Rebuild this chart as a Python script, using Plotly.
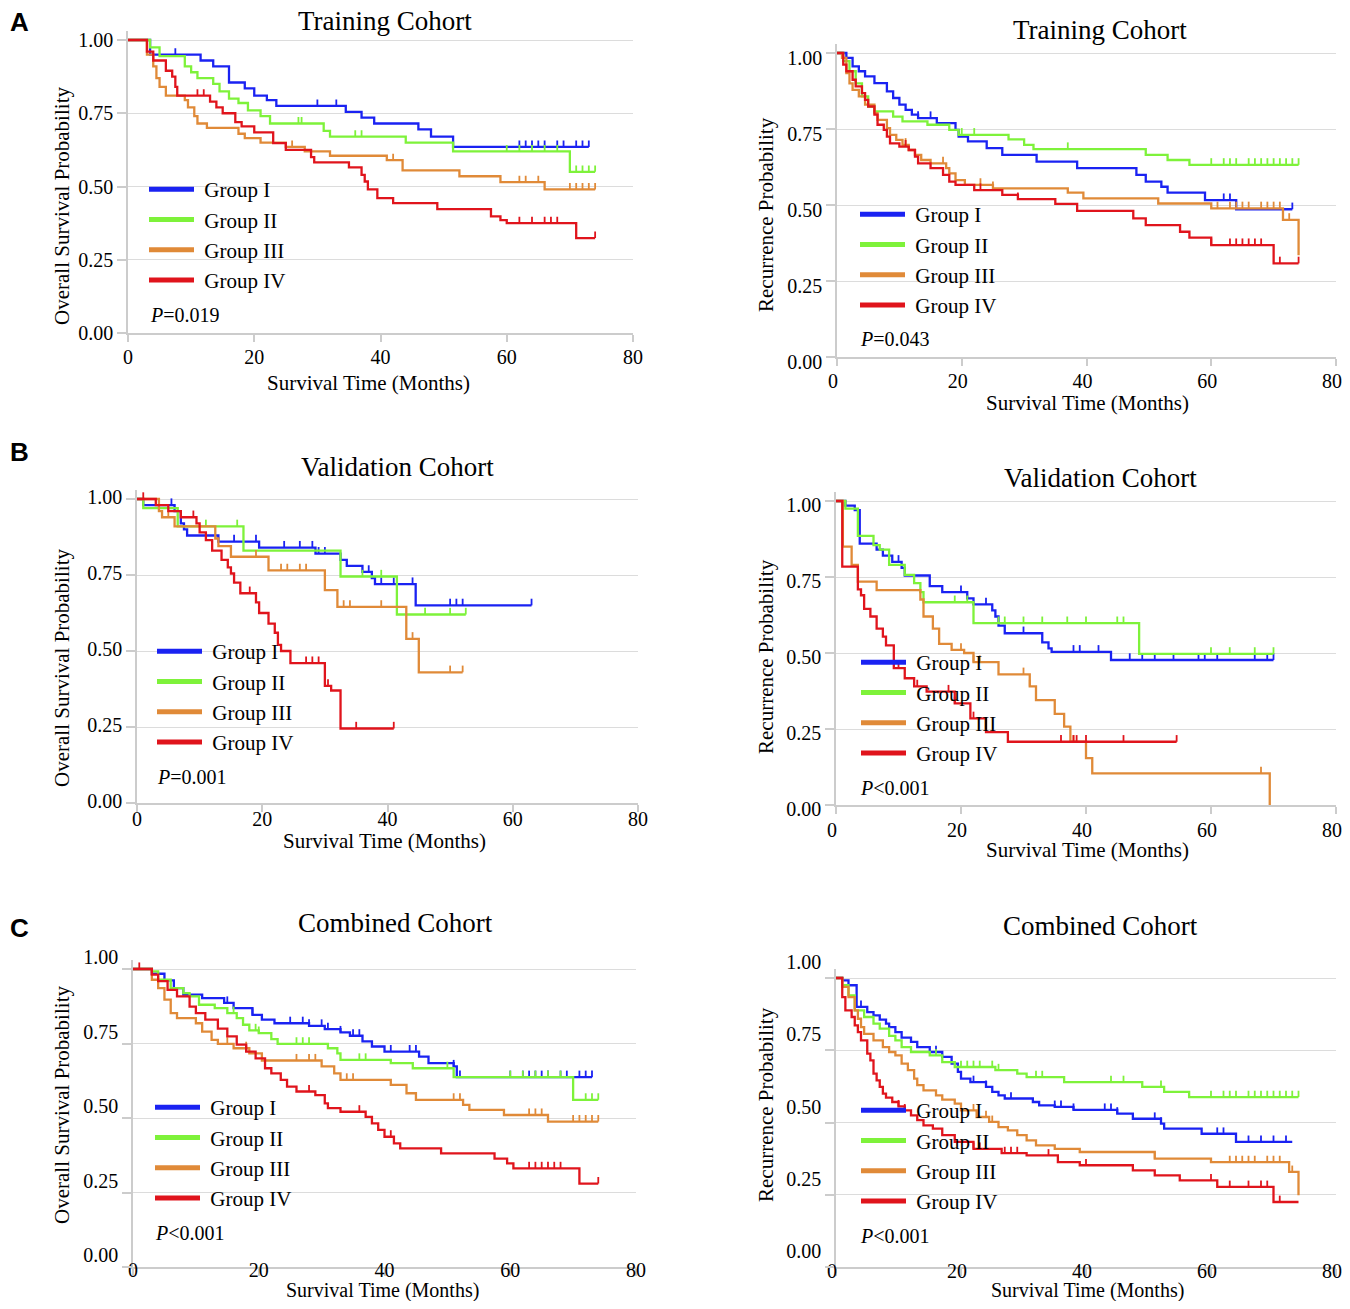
import plotly.graph_objects as go

WIDTH = 1350
HEIGHT = 1309
PAGE_MARGIN = 8  # default body margin of the html page
FIG_W = WIDTH - 2 * PAGE_MARGIN
FIG_H = HEIGHT - 2 * PAGE_MARGIN

GROUPS = ['Group I', 'Group II', 'Group III', 'Group IV']
COLORS = ['#1a22f2', '#7ef23a', '#e08a38', '#e0141c']
X_TICKS = [0, 20, 40, 60, 80]
Y_TICKS = [0, 0.25, 0.5, 0.75, 1.0]
Y_TICK_TEXT = ['0.00', '0.25', '0.50', '0.75', '1.00']

# ---- A: training cohort, overall survival ----
A_OS_I_T = [0, 3.5, 11.5, 13.5, 16, 18.5, 20, 22, 23.5, 34.5, 37, 39, 46, 48, 51.5, 73]
A_OS_I_S = [1, .95, .93, .91, .855, .835, .81, .795, .775, .755, .735, .715, .695, .67, .635, .635]
A_OS_I_C = [7.5, 16, 30, 33, 62, 63, 64, 65, 66, 68, 69, 71, 72, 73]
A_OS_II_T = [0, 3.5, 5, 9, 10, 11, 13.5, 14.5, 16, 17.5, 19, 21, 22.5, 31, 32, 44, 51.5, 70, 74]
A_OS_II_S = [1, .975, .945, .91, .89, .87, .85, .825, .80, .785, .76, .74, .715, .69, .67, .65, .62, .55, .55]
A_OS_II_C = [27, 27.5, 36, 37, 60, 62, 64, 66, 68, 71, 72, 73, 74]
A_OS_III_T = [0, 3, 4, 4.5, 5, 6, 9, 9.5, 10.5, 11, 12.5, 17.5, 18.5, 21, 25, 28, 32, 41, 43.5, 52.5, 59, 66, 74]
A_OS_III_S = [1, .95, .91, .87, .84, .81, .795, .77, .74, .715, .70, .68, .665, .65, .635, .62, .605, .59, .555, .535, .515, .49, .49]
A_OS_III_C = [26, 42, 62, 63, 65, 70, 71, 72, 73, 74]
A_OS_IV_T = [0, 3, 4, 6, 7, 7.5, 7.8, 13, 14, 15, 17, 18, 20, 23, 25, 29, 29.5, 35, 37, 37.5, 38, 39.5, 42,
             49, 57.5, 59, 60, 71, 74]
A_OS_IV_S = [1, .96, .93, .895, .875, .84, .81, .79, .77, .75, .72, .705, .685, .648, .625, .60, .582, .565, .54,
             .517, .49, .46, .443, .423, .398, .385, .375, .324, .324]
A_OS_IV_C = [11, 12, 62, 64, 66, 67, 68, 74]

# ---- A: training cohort, recurrence ----
A_RFS_I_T = [0, 1.5, 2.5, 3.5, 4.5, 6, 8, 9, 10, 11, 12, 13, 16, 19, 19.5, 21, 24, 26.5, 32, 38.5, 48, 49.5,
             52, 53, 59, 64, 73]
A_RFS_I_S = [1, .984, .956, .94, .923, .901, .874, .852, .83, .813, .797, .786, .769, .747, .725, .709, .687,
             .665, .643, .621, .599, .577, .56, .541, .516, .486, .486]
A_RFS_I_C = [13, 15, 62, 63, 73]
A_RFS_II_T = [0, 1, 2, 3, 4, 5, 6, 9, 10.5, 14.5, 18, 19.5, 27.5, 30, 31.5, 49.5, 53, 56.5, 74]
A_RFS_II_S = [1, .973, .94, .90, .857, .824, .808, .791, .775, .764, .747, .731, .716, .698, .684, .665, .648,
              .632, .632]
A_RFS_II_C = [20, 22, 37, 60, 62, 63, 64, 66, 67, 68, 69, 70, 71, 72, 73, 74]
A_RFS_III_T = [0, .8, 1.5, 2, 2.5, 3.5, 4.5, 6, 6.5, 8, 8.5, 9.5, 10.5, 11.5, 12.5, 13.5, 15, 17.5, 18, 19,
               20.5, 25, 37, 39.5, 51.5, 60, 71.5, 74]
A_RFS_III_S = [1, .984, .934, .90, .879, .857, .83, .802, .78, .753, .731, .714, .698, .681, .665, .648, .637,
               .621, .604, .582, .566, .555, .541, .522, .505, .489, .451, .335]
A_RFS_III_C = [11, 17, 23, 25, 61, 63, 64, 65, 66, 68, 69, 70, 71, 72.5]
A_RFS_IV_T = [0, 1, 1.5, 2.5, 3, 4, 4.5, 5, 6, 6.5, 7.5, 8, 8.5, 10, 11.5, 12.5, 13, 15, 17, 18, 19, 22, 26.5,
              29, 35, 38.5, 47.5, 49.5, 55, 56.5, 60, 70, 74]
A_RFS_IV_S = [1, .962, .94, .912, .89, .868, .846, .824, .797, .764, .747, .725, .703, .692, .681, .659, .637,
              .621, .599, .577, .566, .549, .533, .519, .504, .481, .456, .434, .412, .393, .368, .308, .308]
A_RFS_IV_C = [11, 13, 23, 29, 60, 63, 64, 65, 66, 67, 68, 71, 74]

# ---- B: validation cohort, overall survival ----
B_OS_I_T = [0, 1, 6, 7, 7.5, 8, 13, 19.5, 28.5, 32.5, 33.5, 36, 37.5, 38, 44.5, 63]
B_OS_I_S = [1, .98, .96, .92, .90, .88, .86, .84, .82, .80, .78, .76, .74, .72, .65, .65]
B_OS_I_C = [5.5, 15.5, 19, 23.5, 26, 28, 29, 30, 37, 39, 41, 44, 50, 51, 52, 63]
B_OS_II_T = [0, 1, 6.5, 17, 32.5, 41.5, 52.5]
B_OS_II_S = [1, .97, .91, .83, .745, .62, .62]
B_OS_II_C = [11, 16, 36, 39, 46, 50, 52.5]
B_OS_III_T = [0, 3.5, 4, 6, 12.5, 13, 15, 21, 30, 32, 43, 45, 52]
B_OS_III_S = [1, .96, .94, .91, .87, .845, .81, .765, .70, .645, .54, .43, .43]
B_OS_III_C = [5, 19, 23, 24, 26, 27, 33, 34, 39, 44, 50, 52]
B_OS_IV_T = [0, 3, 5, 7, 9.5, 10, 11, 12, 13.5, 14.5, 15, 15.5, 16.5, 19, 19.5, 21, 22, 22.5, 23, 24.5, 30,
             31, 32.5, 41]
B_OS_IV_S = [1, .98, .96, .94, .92, .89, .865, .83, .80, .775, .755, .725, .69, .66, .625, .59, .56, .52, .50,
             .46, .385, .37, .245, .245]
B_OS_IV_C = [1, 9, 18, 19, 23, 27, 28, 29, 30.5, 35, 41]

# ---- B: validation cohort, recurrence ----
B_RFS_I_T = [0, 1.5, 3, 3.8, 6.5, 7.5, 9, 10.5, 11, 15, 17, 21, 22, 25, 25.5, 26, 27, 33, 34, 34.5, 44, 70]
B_RFS_I_S = [1, .985, .97, .86, .84, .82, .80, .78, .755, .72, .70, .68, .66, .64, .62, .59, .565, .535, .515,
             .504, .477, .477]
B_RFS_I_C = [10, 20, 24, 30, 38, 39, 42, 47, 49, 51, 54, 58, 59, 61, 67, 69, 70]
B_RFS_II_T = [0, 1.5, 3.5, 6, 7, 8.5, 11, 12.5, 13.5, 14, 22, 48.5, 70]
B_RFS_II_S = [1, .975, .885, .855, .84, .79, .757, .73, .70, .667, .598, .497, .497]
B_RFS_II_C = [19, 21, 26, 27, 30, 33, 37, 40, 45, 46, 60, 63, 67, 70]
B_RFS_III_T = [0, 1.1, 2.5, 3.5, 6.5, 13.5, 14, 15.5, 16.5, 18.5, 20.5, 22, 26, 31, 32, 35, 36.5, 37.5, 40,
               41, 69.4]
B_RFS_III_S = [1, .85, .79, .735, .707, .676, .62, .58, .53, .51, .50, .47, .43, .39, .345, .30, .258, .208,
               .154, .104, 0]
B_RFS_III_C = [20, 22, 23, 30, 31, 38, 68]
B_RFS_IV_T = [0, 1, 3.5, 4, 4.5, 5.5, 6.5, 7.5, 8, 9.25, 11, 12.5, 14.5, 19, 21.5, 24, 27.5, 54.5]
B_RFS_IV_S = [1, .784, .709, .69, .645, .62, .58, .554, .525, .45, .417, .39, .373, .334, .285, .24, .208, .208]
B_RFS_IV_C = [10, 13, 18, 19, 22, 36, 38, 38.5, 40, 46, 54.5]

# ---- C: combined cohort, overall survival ----
C_OS_I_T = [0, 3, 5, 6.5, 8, 11, 14.5, 16, 19, 20.5, 22.5, 28, 30.5, 33, 34.5, 36.5, 38, 40, 45.5, 47, 51,
            51.5, 73]
C_OS_I_S = [1, .984, .962, .936, .914, .902, .886, .869, .846, .830, .818, .809, .798, .787, .776, .757, .740,
            .723, .706, .684, .673, .637, .637]
C_OS_I_C = [15, 19, 25, 27, 28, 30, 31, 33, 35, 36, 41, 44, 45, 51, 52, 60, 62, 63, 64, 65, 66, 68, 69, 71,
            72, 73]
C_OS_II_T = [0, 3, 4, 6, 8, 9, 10.5, 13, 15, 16.5, 17.5, 18.5, 20, 22, 23, 31, 32.5, 33, 41, 44.5, 51, 70, 74]
C_OS_II_S = [1, .992, .964, .936, .919, .908, .88, .869, .852, .835, .813, .794, .785, .765, .749, .734, .717,
             .695, .684, .667, .637, .561, .561]
C_OS_II_C = [16, 19.5, 20, 26, 27, 28, 36, 37, 50, 60, 62, 64, 66, 68, 70, 72, 73, 74]
C_OS_III_T = [0, 3, 4, 5, 6, 7, 10, 11, 12.5, 13.5, 16, 18.5, 20.5, 30, 32, 33, 41, 43.5, 45, 52.5, 53.5, 59,
              66, 74]
C_OS_III_S = [1, .964, .936, .897, .852, .835, .818, .79, .762, .749, .734, .717, .693, .673, .65, .628, .611,
              .583, .561, .544, .527, .51, .488, .488]
C_OS_III_C = [15, 18, 26, 28, 29, 34, 35, 51, 52, 63, 64, 65, 70, 71, 72, 73, 74]
C_OS_IV_T = [0, 3, 4, 5.5, 7, 9, 10, 11.5, 13.5, 15, 16.5, 18, 19.5, 21, 22, 23.5, 24.5, 26, 29, 30.5, 31, 33,
             37, 38, 39, 40, 41.5, 42.5, 49, 57.5, 59.5, 60.5, 71, 74]
C_OS_IV_S = [1, .981, .959, .930, .908, .874, .852, .83, .80, .774, .746, .723, .70, .667, .65, .628, .605,
             .589, .577, .549, .533, .521, .504, .482, .46, .437, .415, .398, .381, .364, .348, .331, .28, .28]
C_OS_IV_C = [1, 18, 28, 36, 41, 63, 64, 65, 66, 67, 68, 74]

# ---- C: combined cohort, recurrence ----
C_RFS_I_T = [0, 1, 2, 3.3, 5, 6, 7, 8, 8.5, 9.5, 10.5, 12, 13, 15, 17, 18.5, 19.5, 20, 21.5, 24, 25, 26, 27,
             31.5, 32.5, 35, 38, 45, 47.5, 52, 52.5, 58.5, 64, 73]
C_RFS_I_S = [1, .992, .975, .90, .882, .871, .856, .842, .83, .813, .794, .779, .761, .744, .727, .704, .675,
             .652, .64, .623, .606, .594, .583, .571, .559, .554, .544, .531, .513, .496, .479, .461, .433, .433]
C_RFS_I_C = [4, 16, 22, 24, 28, 35, 36, 38, 43, 44, 45, 51, 52, 61, 62, 66, 68, 70, 72]
C_RFS_II_T = [0, 1, 2, 3, 4.5, 6, 7, 8.5, 9.5, 10.5, 12, 15, 17, 19, 25.5, 29, 30.5, 36.5, 49, 52.5, 56.5, 74]
C_RFS_II_S = [1, .975, .94, .888, .865, .842, .825, .80, .784, .761, .744, .732, .709, .692, .681, .669, .657,
              .64, .623, .606, .588, .588]
C_RFS_II_C = [16, 20, 21, 22, 23, 25, 26, 32, 33, 44, 46, 52, 60, 62, 63, 64, 66, 67, 68, 69, 70, 71, 72, 73, 74]
C_RFS_III_T = [0, 1, 2, 3, 3.5, 4, 4.5, 6, 7.5, 8.5, 9.5, 10.5, 11.5, 12.5, 13, 14, 16, 17, 19, 20, 22.5, 24.5,
               26, 27.5, 29, 30.5, 32, 35, 39, 51, 60, 72.5, 74]
C_RFS_III_S = [1, .969, .934, .888, .859, .83, .807, .784, .761, .744, .732, .704, .681, .652, .629, .611, .594,
               .579, .565, .542, .519, .502, .484, .473, .456, .438, .421, .409, .398, .375, .363, .329, .248]
C_RFS_III_C = [22, 24, 25, 51, 63, 64, 65, 66, 67, 69, 70, 71, 73]
C_RFS_IV_T = [0, 1, 1.5, 2.5, 3, 3.5, 4, 5, 5.5, 6, 6.5, 7, 7.5, 8, 9, 10, 11, 12, 13, 14, 15.5, 17, 19, 22,
              26.5, 30.5, 35.5, 39, 47.5, 51, 55, 61, 70, 74]
C_RFS_IV_S = [1, .934, .888, .865, .836, .813, .784, .738, .715, .669, .646, .623, .60, .586, .571, .556, .542,
              .525, .508, .49, .479, .456, .433, .409, .394, .386, .363, .352, .334, .317, .30, .277, .225, .225]
C_RFS_IV_C = [10, 11, 22, 23, 27, 28, 29, 34, 40, 60, 63, 66, 68, 69, 71]

P_TEXT = ['=0.019', '=0.043', '=0.001', '<0.001', '<0.001', '<0.001']
TITLES = ['Training Cohort', 'Training Cohort', 'Validation Cohort', 'Validation Cohort',
          'Combined Cohort', 'Combined Cohort']
Y_TITLES = ['Overall Survival Probability', 'Recurrence Probability'] * 3

CURVES = [
    [(A_OS_I_T, A_OS_I_S, A_OS_I_C), (A_OS_II_T, A_OS_II_S, A_OS_II_C),
     (A_OS_III_T, A_OS_III_S, A_OS_III_C), (A_OS_IV_T, A_OS_IV_S, A_OS_IV_C)],
    [(A_RFS_I_T, A_RFS_I_S, A_RFS_I_C), (A_RFS_II_T, A_RFS_II_S, A_RFS_II_C),
     (A_RFS_III_T, A_RFS_III_S, A_RFS_III_C), (A_RFS_IV_T, A_RFS_IV_S, A_RFS_IV_C)],
    [(B_OS_I_T, B_OS_I_S, B_OS_I_C), (B_OS_II_T, B_OS_II_S, B_OS_II_C),
     (B_OS_III_T, B_OS_III_S, B_OS_III_C), (B_OS_IV_T, B_OS_IV_S, B_OS_IV_C)],
    [(B_RFS_I_T, B_RFS_I_S, B_RFS_I_C), (B_RFS_II_T, B_RFS_II_S, B_RFS_II_C),
     (B_RFS_III_T, B_RFS_III_S, B_RFS_III_C), (B_RFS_IV_T, B_RFS_IV_S, B_RFS_IV_C)],
    [(C_OS_I_T, C_OS_I_S, C_OS_I_C), (C_OS_II_T, C_OS_II_S, C_OS_II_C),
     (C_OS_III_T, C_OS_III_S, C_OS_III_C), (C_OS_IV_T, C_OS_IV_S, C_OS_IV_C)],
    [(C_RFS_I_T, C_RFS_I_S, C_RFS_I_C), (C_RFS_II_T, C_RFS_II_S, C_RFS_II_C),
     (C_RFS_III_T, C_RFS_III_S, C_RFS_III_C), (C_RFS_IV_T, C_RFS_IV_S, C_RFS_IV_C)],
]

# pixel geometry of each panel (page pixels): x of t=0, x of t=80, y of p=1, y of p=0
# yshift > 0 moves the y tick labels down, xstand < 0 pulls x tick labels toward the axis,
# xshift moves the x tick labels sideways (keeps the right-hand "80" inside the page)
PANELS = [
    dict(x0=128, x80=633, y1=40, y0=333, yshift=0, xstand=-2, xshift=0),
    dict(x0=837, x80=1336, y1=53, y0=357, yshift=5, xstand=-2, xshift=-4),
    dict(x0=137, x80=638, y1=499, y0=803, yshift=-2, xstand=-10, xshift=0),
    dict(x0=836, x80=1336, y1=501, y0=805, yshift=4, xstand=-1, xshift=-4),
    dict(x0=133, x80=636, y1=969, y0=1267, yshift=-12, xstand=-23, xshift=0),
    dict(x0=836, x80=1336, y1=978, y0=1267, yshift=-16, xstand=-22, xshift=-4),
]
# label positions (page pixels) and x-title font size
TEXT_POS = [
    dict(title=(385, 21), ytitle=(62, 206), xtitle=(368, 383), xsize=21, legend=(145, 192), p=(148, 315)),
    dict(title=(1100, 30), ytitle=(766, 215), xtitle=(1087, 403), xsize=21, legend=(856, 217), p=(858, 339)),
    dict(title=(397, 467), ytitle=(62, 668), xtitle=(384, 841), xsize=21, legend=(153, 654), p=(155, 777)),
    dict(title=(1100, 478), ytitle=(766, 657), xtitle=(1087, 850), xsize=21, legend=(857, 665), p=(858, 788)),
    dict(title=(395, 923), ytitle=(62, 1105), xtitle=(382, 1290), xsize=20, legend=(151, 1110), p=(153, 1233)),
    dict(title=(1100, 926), ytitle=(766, 1105), xtitle=(1087, 1290), xsize=20, legend=(857, 1113), p=(858, 1236)),
]
LETTERS = [('A', 22), ('B', 452), ('C', 928)]

SERIF = 'Liberation Serif'
Y_MAX = 1.03
TICK_H = 0.022


def px_x(x):
    '''page pixel -> paper fraction'''
    return (x - PAGE_MARGIN) / FIG_W


def px_y(y):
    return 1 - (y - PAGE_MARGIN) / FIG_H


def surv_at(times, surv, t):
    '''step function lookup: survival value at time t'''
    val = surv[0]
    for ti, si in zip(times, surv):
        if ti <= t:
            val = si
    return val


def censor_segments(times, surv, cens):
    '''small upward ticks at each censored time'''
    xs, ys = [], []
    for c in cens:
        s = surv_at(times, surv, c)
        xs += [c, c, None]
        ys += [s, s + TICK_H, None]
    return xs, ys


def paper_text(x, y, text, size, **kw):
    d = dict(x=px_x(x), y=px_y(y), xref='paper', yref='paper', text=text, showarrow=False,
             xanchor='center', yanchor='middle', font=dict(family=SERIF, size=size, color='black'))
    d.update(kw)
    return d


fig = go.Figure()
annotations = []

for k, (panel, pos) in enumerate(zip(PANELS, TEXT_POS), start=1):
    ax = '' if k == 1 else str(k)
    leg = 'legend' if k == 1 else 'legend' + str(k)

    for g, (times, surv, cens) in enumerate(CURVES[k - 1]):
        fig.add_trace(go.Scatter(x=times, y=surv, mode='lines', line=dict(color=COLORS[g], width=2.3, shape='hv'),
                                 showlegend=False, xaxis='x' + ax, yaxis='y' + ax, hoverinfo='skip'))
        cx, cy = censor_segments(times, surv, cens)
        fig.add_trace(go.Scatter(x=cx, y=cy, mode='lines', line=dict(color=COLORS[g], width=1.8),
                                 showlegend=False, xaxis='x' + ax, yaxis='y' + ax, hoverinfo='skip'))
    # legend-only traces with thick bars
    for g in range(4):
        fig.add_trace(go.Scatter(x=[None], y=[None], mode='lines', name='\u00a0' + GROUPS[g],
                                 line=dict(color=COLORS[g], width=5), legend=leg,
                                 xaxis='x' + ax, yaxis='y' + ax))

    y_top = panel['y0'] - Y_MAX * (panel['y0'] - panel['y1'])
    fig.update_layout({
        'xaxis' + ax: dict(domain=[px_x(panel['x0']), px_x(panel['x80'])], range=[0, 80], anchor='y' + ax,
                           tickvals=X_TICKS, showgrid=False, zeroline=False, showline=True, linecolor='#cccccc',
                           linewidth=1.5, ticks='outside', ticklen=7, tickcolor='#cccccc', tickwidth=1.5,
                           ticklabelstandoff=panel['xstand'], ticklabelshift=panel['xshift'], automargin=False,
                           tickfont=dict(family=SERIF, size=20, color='black')),
        'yaxis' + ax: dict(domain=[px_y(panel['y0']), px_y(y_top)], range=[0, Y_MAX], anchor='x' + ax,
                           tickvals=Y_TICKS, ticktext=Y_TICK_TEXT, showgrid=True, gridcolor='#dcdcdc',
                           zeroline=False, showline=True, linecolor='#cccccc', linewidth=1.5,
                           ticks='outside', ticklen=9, tickcolor='#cccccc', tickwidth=1.5,
                           ticklabelshift=panel['yshift'], automargin=False,
                           tickfont=dict(family=SERIF, size=20, color='black')),
        leg: dict(x=px_x(pos['legend'][0] - 1), y=px_y(pos['legend'][1] - 23), xanchor='left', yanchor='top',
                  bgcolor='rgba(0,0,0,0)', font=dict(family=SERIF, size=21, color='black'),
                  itemwidth=45),
    })

    annotations.append(paper_text(*pos['title'], TITLES[k - 1], 27))
    annotations.append(paper_text(*pos['ytitle'], Y_TITLES[k - 1], 21, textangle=-90))
    annotations.append(paper_text(*pos['xtitle'], 'Survival Time (Months)', pos['xsize']))
    annotations.append(paper_text(*pos['p'], '<i>P</i>' + P_TEXT[k - 1], 20, xanchor='left'))

for letter, y in LETTERS:
    annotations.append(paper_text(PAGE_MARGIN, y, '<b>' + letter + '</b>', 26, xanchor='left',
                                  font=dict(family='Liberation Sans', size=26, color='black')))

fig.update_layout(width=FIG_W, height=FIG_H, margin=dict(l=0, r=0, t=0, b=0, autoexpand=False),
                  paper_bgcolor='white', plot_bgcolor='white', annotations=annotations, showlegend=True)

fig.write_html('out.html')
